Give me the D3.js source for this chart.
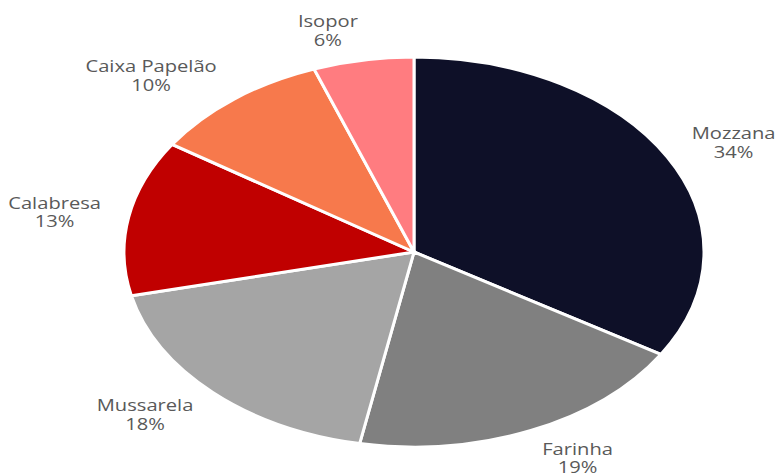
<!DOCTYPE html>
<html>
<head>
<meta charset="utf-8">
<script src="https://cdn.jsdelivr.net/npm/d3@7"></script>
<style>
  body { margin: 0; background: #fff; }
  text { font-family: "Open Sans", "Noto Sans", sans-serif; }
</style>
</head>
<body>
<svg id="chart"></svg>
<script>
"use strict";

// data (percent shares)
const categories = ["Mozzana", "Farinha", "Mussarela", "Calabresa", "Caixa Papelão", "Isopor"];
const values = [33.8, 19.2, 18.4, 12.9, 10.1, 5.6];
const colors = ["#0E1028", "#808080", "#A5A5A5", "#C00000", "#F7794C", "#FF7C80"];

const width = 778, height = 475;
const cx = 414, cy = 252;
const rx = 290, ry = 195;
const ky = ry / rx;

// label ellipse
const label_rx = 318, label_ry = 225;
const font_size = 15.5;
const stretch = 1.3;   // text in the picture is stretched sideways

const svg = d3.select("#chart")
  .attr("width", width)
  .attr("height", height);

const data = categories.map((c, i) => ({ name: c, value: values[i], color: colors[i] }));

const pie = d3.pie()
  .value(d => d.value)
  .sort(null);

const arcs = pie(data);

const arc = d3.arc()
  .innerRadius(0)
  .outerRadius(rx);

// pie, squashed vertically
const g = svg.append("g")
  .attr("transform", `translate(${cx},${cy}) scale(1,${ky})`);

g.selectAll("path")
  .data(arcs)
  .join("path")
  .attr("d", arc)
  .attr("fill", d => d.data.color)
  .attr("stroke", "#fff")
  .attr("stroke-width", 3)
  .attr("vector-effect", "non-scaling-stroke");

// labels
const total = d3.sum(values);
const fmt = d3.format(".0%");
const lab = svg.append("g")
  .attr("transform", `translate(${cx},${cy})`);

arcs.forEach(d => {
  const a = (d.startAngle + d.endAngle) / 2;
  const t = lab.append("text")
    .attr("text-anchor", "middle")
    .attr("font-size", font_size)
    .attr("fill", "#595959");
  t.append("tspan")
    .attr("x", 0)
    .attr("dy", "-0.22em")
    .text(d.data.name);
  t.append("tspan")
    .attr("x", 0)
    .attr("dy", "1.22em")
    .text(fmt(d.data.value / total));

  const w = t.node().getBBox().width * stretch;
  const x = label_rx * Math.sin(a) + Math.sign(Math.sin(a)) * w / 2;
  const y = -label_ry * Math.cos(a);
  t.attr("transform", `translate(${x},${y}) scale(${stretch},1)`);
});
</script>
</body>
</html>
